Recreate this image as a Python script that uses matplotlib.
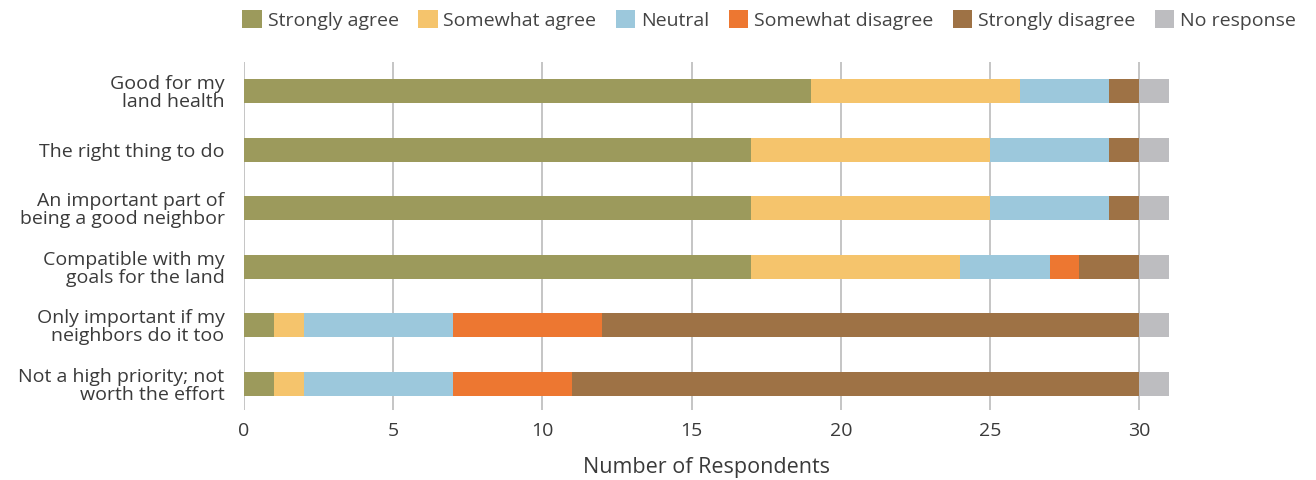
import matplotlib.pyplot as plt
import numpy as np

plt.rcParams['font.family'] = ['Open Sans', 'DejaVu Sans']

questions = ["Good for my\nland health", "The right thing to do",
             "An important part of\nbeing a good neighbor",
             "Compatible with my\ngoals for the land",
             "Only important if my\nneighbors do it too",
             "Not a high priority; not\nworth the effort"]
responses = ["Strongly agree", "Somewhat agree", "Neutral",
             "Somewhat disagree", "Strongly disagree", "No response"]
strongly_agree = [19, 17, 17, 17, 1, 1]
somewhat_agree = [7, 8, 8, 7, 1, 1]
neutral = [3, 4, 4, 3, 5, 5]
somewhat_disagree = [0, 0, 0, 1, 5, 4]
strongly_disagree = [1, 1, 1, 2, 18, 19]
no_response = [1, 1, 1, 1, 1, 1]
colors = ['#9c9a5c', '#f5c46c', '#9cc8dc', '#ed7731', '#9e7245', '#bdbdc0']

series = [strongly_agree, somewhat_agree, neutral, somewhat_disagree,
          strongly_disagree, no_response]

fig = plt.figure(figsize=(13.16, 4.8), dpi=100)
ax = fig.add_axes([0.1854, 0.146, 0.7029, 0.725])
y = np.arange(len(questions))
left = np.zeros(len(questions))
for vals, lab, c in zip(series, responses, colors):
    ax.barh(y, vals, left=left, height=0.41, color=c, label=lab, zorder=2)
    left += np.array(vals)

ax.set_xlim(0, 31)
ax.set_ylim(5.45, -0.5)
ax.set_xticks([0, 5, 10, 15, 20, 25, 30])
ax.set_yticks(y)
ax.set_yticklabels(questions, fontsize=14, color='#3a3a3a', linespacing=1.0)
ax.tick_params(axis='x', labelsize=14, colors='#3a3a3a', length=0, pad=9)
ax.tick_params(axis='y', length=0, pad=14)
ax.grid(axis='x', color='#bbbbbb', linewidth=1.2, zorder=0)
for s in ax.spines.values():
    s.set_visible(False)
ax.set_xlabel("Number of Respondents", fontsize=15.5, color='#3a3a3a', labelpad=12)

fig.legend(loc='upper right', bbox_to_anchor=(0.998, 1.015), ncol=6, frameon=False,
           fontsize=14, handlelength=1.0, handleheight=1.0, handletextpad=0.3,
           columnspacing=1.0, labelcolor='#444444')

fig.savefig('out.png', dpi=100)
